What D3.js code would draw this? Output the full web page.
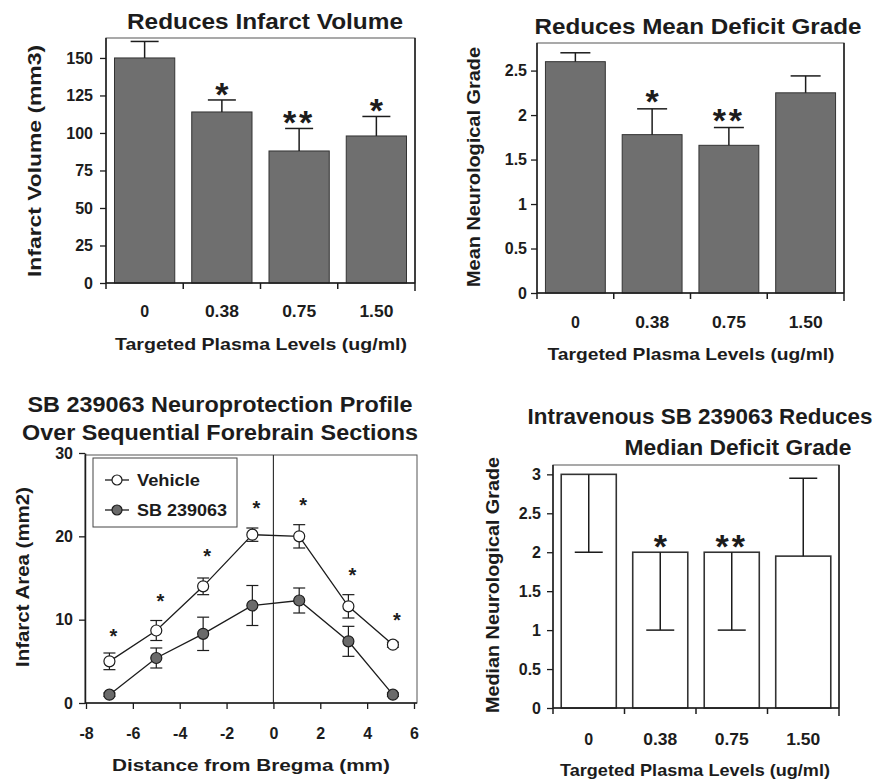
<!DOCTYPE html>
<html>
<head>
<meta charset="utf-8">
<script src="https://cdn.jsdelivr.net/npm/d3@7"></script>
<style>
  body { margin: 0; background: #fff; }
  text { font-family: "Liberation Sans", Arial, Helvetica, sans-serif; font-weight: bold; fill: #1c1c1c; }
</style>
</head>
<body>
<div id="chart"></div>
<script>
// ---- data ----
const doses = ["0", "0.38", "0.75", "1.50"];

// top left: infarct volume (mm3), mean + sem
const volumeMean = [150, 114, 88, 98];
const volumeSem = [11, 8, 15, 13];
const volumeSig = ["", "*", "**", "*"];

// top right: mean neurological grade
const gradeMean = [2.6, 1.78, 1.66, 2.25];
const gradeSem = [0.1, 0.29, 0.2, 0.19];
const gradeSig = ["", "*", "**", ""];

// bottom right: median grade with range
const medianGrade = [3, 2, 2, 1.95];
const medianLow = [2, 1, 1, 1.95];
const medianHigh = [3, 2, 2, 2.95];
const medianSig = ["", "*", "**", ""];

// bottom left: infarct area over forebrain sections
const bregma = [-7, -5, -3, -0.9, 1.1, 3.2, 5.1];
const vehicleArea = [5, 8.7, 14, 20.2, 20, 11.6, 7];
const vehicleSem = [1, 1.2, 1, 0.8, 1.4, 1.4, 0.3];
const sbArea = [1, 5.4, 8.3, 11.7, 12.3, 7.4, 1];
const sbSem = [0.2, 1.2, 2, 2.4, 1.5, 1.8, 0.2];
const areaStarY = [8.4, 12.6, 18, 23.8, 24.1, 15.7, 10.3];

const width = 879, height = 784;
const ink = "#1c1c1c";

const svg = d3.select("#chart").append("svg")
    .attr("width", width)
    .attr("height", height);

// text squeezed/stretched to the width it has in the scan
function label(g, txt, x, y, size, len, rotate) {
  const t = g.append("text")
      .attr("text-anchor", "middle")
      .style("font-size", size + "px")
      .text(txt);
  if (len) t.attr("textLength", len).attr("lengthAdjust", "spacingAndGlyphs");
  if (rotate) t.attr("transform", `translate(${x},${y}) rotate(-90)`);
  else t.attr("x", x).attr("y", y);
  return t;
}

function star(g, txt, cx, cy, size) {
  // "*" sits high in the em box, shift so its centre lands on cy
  g.append("text")
      .attr("x", cx)
      .attr("y", cy + size * 0.5)
      .attr("text-anchor", "middle")
      .style("font-size", size + "px")
      .attr("letter-spacing", txt.length > 1 ? 3 : 0)
      .text(txt);
}

function styleAxis(a) {
  a.select(".domain").attr("stroke", ink).attr("stroke-width", 1.5);
  a.selectAll(".tick line").attr("stroke", ink).attr("stroke-width", 1.3);
  a.selectAll("text").attr("fill", ink)
      .style("font-size", "16px")
      .style("font-family", "'Liberation Sans', Arial, sans-serif")
      .style("font-weight", "bold");
}

function barPanel(o) {
  const g = svg.append("g");
  const x = d3.scaleBand().domain(doses)
      .range([o.left, o.right])
      .paddingInner(o.pad).paddingOuter(o.pad / 2);
  const y = d3.scaleLinear().domain([0, o.yMax]).range([o.bottom, o.top]);
  const half = (x.step() - x.bandwidth()) / 2;

  // frame
  g.append("rect")
      .attr("x", o.left).attr("y", o.top)
      .attr("width", o.right - o.left).attr("height", o.bottom - o.top)
      .attr("fill", "none").attr("stroke", "#555").attr("stroke-width", 1);

  // bars
  g.selectAll("rect.bar").data(o.mean).join("rect")
      .attr("class", "bar")
      .attr("x", (d, i) => x(doses[i]))
      .attr("y", d => y(d))
      .attr("width", x.bandwidth())
      .attr("height", d => y(0) - y(d))
      .attr("fill", o.fill)
      .attr("stroke", "#333")
      .attr("stroke-width", o.fill === "#fff" ? 1.6 : 1);

  // error bars
  o.mean.forEach((m, i) => {
    const cx = x(doses[i]) + x.bandwidth() / 2;
    const lo = o.low[i], hi = o.high[i];
    g.append("line")
        .attr("x1", cx).attr("x2", cx)
        .attr("y1", y(lo)).attr("y2", y(hi))
        .attr("stroke", ink).attr("stroke-width", 1.5);
    [lo, hi].forEach(v => {
      if (v === m) return;
      g.append("line")
          .attr("x1", cx - o.cap).attr("x2", cx + o.cap)
          .attr("y1", y(v)).attr("y2", y(v))
          .attr("stroke", ink).attr("stroke-width", 1.5);
    });
    if (o.sig[i]) star(g, o.sig[i], cx, y(Math.max(hi, m)) - o.starGap, 34);
  });

  // y axis
  g.append("g")
      .attr("transform", `translate(${o.left},0)`)
      .call(d3.axisLeft(y).tickValues(o.ticks).tickFormat(d => String(d))
          .tickSize(6).tickPadding(o.tickPad).tickSizeOuter(0))
      .call(styleAxis)
      .call(a => a.select(".domain").attr("d", `M0,${y(o.yMax)}V${o.bottom + 6}`));

  // x axis line with ticks on the band boundaries
  g.append("line")
      .attr("x1", o.left).attr("x2", o.right)
      .attr("y1", y(0)).attr("y2", y(0))
      .attr("stroke", ink).attr("stroke-width", 1.5);
  doses.slice(1).forEach(d => {
    const bx = x(d) - half;
    g.append("line")
        .attr("x1", bx).attr("x2", bx)
        .attr("y1", y(0)).attr("y2", y(0) + 6)
        .attr("stroke", ink).attr("stroke-width", 1.5);
  });
  g.append("line")
      .attr("x1", o.right).attr("x2", o.right)
      .attr("y1", o.top).attr("y2", y(0) + 8)
      .attr("stroke", ink).attr("stroke-width", 1.5);

  doses.forEach((d, i) => {
    label(g, d, x(d) + x.bandwidth() / 2, o.tickBase, 16, i ? 34 : 0);
  });

  o.titles.forEach(t => label(g, t.text, t.x, t.y, 22, t.len));
  label(g, o.ylab.text, o.ylab.x, o.ylab.y, 18, o.ylab.len, true);
  label(g, o.xlab.text, o.xlab.x, o.xlab.y, 17, o.xlab.len);
}

// top left
barPanel({
  left: 106, right: 415, top: 38, bottom: 283, yMax: 163.3, pad: 0.22,
  fill: "#6f6f6f", cap: 14, starGap: 11, tickPad: 7,
  ticks: d3.range(0, 151, 25),
  mean: volumeMean,
  low: volumeMean,
  high: volumeMean.map((m, i) => m + volumeSem[i]),
  sig: volumeSig,
  tickBase: 317,
  titles: [{ text: "Reduces Infarct Volume", x: 265, y: 29, len: 276 }],
  ylab: { text: "Infarct Volume (mm3)", x: 41, y: 161, len: 232 },
  xlab: { text: "Targeted Plasma Levels (ug/ml)", x: 261, y: 350, len: 292 }
});

// top right
barPanel({
  left: 537, right: 844, top: 43, bottom: 293, yMax: 2.81, pad: 0.22,
  fill: "#6f6f6f", cap: 15, starGap: 13, tickPad: 4,
  ticks: d3.range(0, 2.51, 0.5),
  mean: gradeMean,
  low: gradeMean,
  high: gradeMean.map((m, i) => m + gradeSem[i]),
  sig: gradeSig,
  tickBase: 328,
  titles: [{ text: "Reduces Mean Deficit Grade", x: 698, y: 34, len: 327 }],
  ylab: { text: "Mean Neurological Grade", x: 480, y: 167, len: 240 },
  xlab: { text: "Targeted Plasma Levels (ug/ml)", x: 691, y: 360, len: 287 }
});

// bottom right
barPanel({
  left: 553, right: 839, top: 465, bottom: 708, yMax: 3.12, pad: 0.23,
  fill: "#fff", cap: 14, starGap: 11, tickPad: 6,
  ticks: d3.range(0, 3.01, 0.5),
  mean: medianGrade,
  low: medianLow,
  high: medianHigh,
  sig: medianSig,
  tickBase: 745,
  titles: [
    { text: "Intravenous SB 239063 Reduces", x: 700, y: 424, len: 345 },
    { text: "Median Deficit Grade", x: 738, y: 455, len: 227 }
  ],
  ylab: { text: "Median Neurological Grade", x: 499, y: 585, len: 256 },
  xlab: { text: "Targeted Plasma Levels (ug/ml)", x: 695, y: 776, len: 270 }
});

// bottom left: line chart
(function () {
  const L = 85, R = 417, T = 455, B = 703;
  const g = svg.append("g");
  const x = d3.scaleLinear().domain([-8, 6]).range([86, 414]);
  const y = d3.scaleLinear().domain([0, 30]).range([B, 453]);

  g.append("rect")
      .attr("x", L).attr("y", T).attr("width", R - L).attr("height", B - T)
      .attr("fill", "none").attr("stroke", "#555");
  g.append("line")
      .attr("x1", x(0)).attr("x2", x(0)).attr("y1", T).attr("y2", B)
      .attr("stroke", "#333").attr("stroke-width", 1.2);

  g.append("g")
      .attr("transform", `translate(${L},0)`)
      .call(d3.axisLeft(y).tickValues([0, 10, 20, 30]).tickSize(6).tickPadding(6).tickSizeOuter(0))
      .call(styleAxis);

  g.append("g")
      .attr("transform", `translate(0,${B})`)
      .call(d3.axisBottom(x).tickValues(d3.range(-8, 7, 2)).tickFormat(d => String(d))
          .tickSize(6).tickPadding(19).tickSizeOuter(0))
      .call(styleAxis)
      .call(a => a.select(".domain").attr("d", `M${L},0H${R}`));

  const line = d3.line().x(d => x(d[0])).y(d => y(d[1]));
  const series = [
    { v: vehicleArea, e: vehicleSem, fill: "#fff" },
    { v: sbArea, e: sbSem, fill: "#6a6a6a" }
  ];
  series.forEach(s => {
    const pts = bregma.map((b, i) => [b, s.v[i], s.e[i]]);
    g.append("path").datum(pts).attr("d", line)
        .attr("fill", "none").attr("stroke", ink).attr("stroke-width", 1.3);
    pts.forEach(p => {
      const cx = x(p[0]);
      const lo = p[1] - p[2], hi = p[1] + p[2];
      g.append("line").attr("x1", cx).attr("x2", cx).attr("y1", y(lo)).attr("y2", y(hi))
          .attr("stroke", ink).attr("stroke-width", 1.2);
      [lo, hi].forEach(v => g.append("line")
          .attr("x1", cx - 6).attr("x2", cx + 6).attr("y1", y(v)).attr("y2", y(v))
          .attr("stroke", ink).attr("stroke-width", 1.2));
    });
    g.selectAll(null).data(pts).join("circle")
        .attr("cx", d => x(d[0])).attr("cy", d => y(d[1])).attr("r", 5.5)
        .attr("fill", s.fill).attr("stroke", ink).attr("stroke-width", 1.2);
  });

  bregma.forEach((b, i) => star(g, "*", x(b) + 4, y(areaStarY[i]), 20));

  // legend
  g.append("rect").attr("x", 93).attr("y", 458).attr("width", 144).attr("height", 69)
      .attr("fill", "#fff").attr("stroke", "#444");
  [["Vehicle", "#fff", 480, 63], ["SB 239063", "#6a6a6a", 510, 90]].forEach(([name, fill, ly, len]) => {
    g.append("line").attr("x1", 105).attr("x2", 129).attr("y1", ly).attr("y2", ly)
        .attr("stroke", ink).attr("stroke-width", 1.3);
    g.append("circle").attr("cx", 117).attr("cy", ly).attr("r", 5)
        .attr("fill", fill).attr("stroke", ink).attr("stroke-width", 1.2);
    g.append("text").attr("x", 137).attr("y", ly + 6).style("font-size", "16px")
        .attr("textLength", len).attr("lengthAdjust", "spacingAndGlyphs").text(name);
  });

  label(g, "SB 239063 Neuroprotection Profile", 220, 412, 22, 385);
  label(g, "Over Sequential Forebrain Sections", 220, 440, 22, 396);
  label(g, "Infarct Area (mm2)", 29, 577, 18, 180, true);
  label(g, "Distance from Bregma (mm)", 251, 771, 17, 278);
})();
</script>
</body>
</html>
